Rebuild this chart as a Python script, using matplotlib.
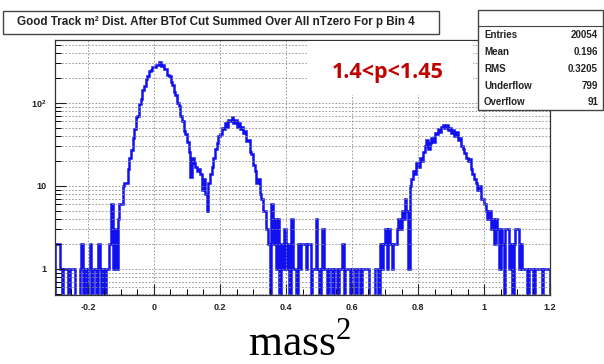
import numpy as np
import matplotlib
matplotlib.use("Agg")
import matplotlib.pyplot as plt
from matplotlib.patches import Rectangle
from matplotlib.lines import Line2D
from matplotlib.ticker import FixedLocator, MultipleLocator, LogLocator, NullFormatter, FuncFormatter

# histogram: 300 bins from -0.3 to 1.2 (bin width 0.005), counts
x_min, x_max, n_bins = -0.3, 1.2, 300
counts_m030 = [2, 2, 2, 1, 0, 1, 1, 1, 0, 1, 1, 1, 0, 0, 0, 1, 2, 0, 1, 0]
counts_m020 = [1, 2, 0, 1, 1, 0, 2, 1, 0, 1, 0, 1, 1, 2, 6, 1, 3, 1, 4, 6]
counts_m010 = [6, 10, 11, 11, 16, 22, 27, 38, 48, 68, 70, 98, 112, 145, 160, 196, 210, 245, 250, 270]
counts_p000 = [272, 290, 288, 310, 282, 286, 260, 255, 220, 210, 180, 165, 135, 125, 100, 92, 70, 60, 46, 42]
counts_p010 = [34, 26, 13, 22, 19, 17, 15, 16, 14, 9, 12, 8, 5, 11, 14, 17, 22, 28, 33, 40]
counts_p020 = [42, 50, 48, 57, 52, 63, 60, 68, 58, 62, 52, 57, 48, 52, 44, 46, 35, 36, 26, 24]
counts_p030 = [18, 15, 11, 12, 8, 7, 5, 5, 3, 2, 0, 6, 2, 4, 1, 4, 0, 2, 1, 3]
counts_p040 = [1, 2, 0, 4, 1, 1, 0, 2, 1, 2, 2, 2, 1, 2, 2, 0, 1, 1, 4, 1]
counts_p050 = [0, 1, 3, 1, 1, 0, 1, 1, 0, 1, 1, 0, 1, 1, 2, 0, 1, 1, 1, 0]
counts_p060 = [1, 1, 0, 1, 1, 0, 1, 1, 1, 1, 0, 0, 0, 0, 1, 1, 0, 2, 1, 2]
counts_p070 = [3, 1, 3, 2, 1, 2, 2, 3, 4, 3, 5, 4, 7, 5, 1, 10, 12, 15, 14, 19]
counts_p080 = [17, 22, 20, 26, 30, 36, 28, 33, 38, 34, 44, 42, 48, 45, 52, 55, 50, 54, 47, 50]
counts_p090 = [44, 47, 40, 45, 36, 38, 30, 28, 25, 22, 20, 21, 16, 14, 12, 11, 9, 10, 7, 7]
counts_p100 = [6, 5, 4, 5, 3, 4, 2, 4, 3, 1, 3, 2, 0, 3, 3, 1, 2, 0, 2, 3]
counts_p110 = [3, 1, 2, 1, 1, 1, 0, 1, 1, 1, 0, 1, 1, 1, 1, 0, 1, 1, 1, 1]

x_ticks = [-0.2, 0, 0.2, 0.4, 0.6, 0.8, 1.0, 1.2]
y_ticks = [1, 10, 100]
y_tick_labels = ["1", "10", "10$^{\\mathregular{2}}$"]

title = "Good Track m\u00b2 Dist. After BTof Cut Summed Over All nTzero For p Bin 4"
stat_names = ["Entries", "Mean", "RMS", "Underflow", "Overflow"]
stat_values = ["20054", "0.196", "0.3205", "799", "91"]
cut_label = "1.4<p<1.45"

counts = np.array(counts_m030 + counts_m020 + counts_m010 + counts_p000 + counts_p010
                  + counts_p020 + counts_p030 + counts_p040 + counts_p050 + counts_p060
                  + counts_p070 + counts_p080 + counts_p090 + counts_p100 + counts_p110, dtype=float)
edges = np.linspace(x_min, x_max, n_bins + 1)
draw_counts = np.where(counts > 0, counts, 1e-3)  # empty bins drop to the floor

plt.rcParams['mathtext.fontset'] = 'custom'
plt.rcParams['mathtext.rm'] = 'Liberation Serif'

W, H = 604, 364
fig = plt.figure(figsize=(W / 100, H / 100), dpi=100)
fig.patch.set_facecolor("white")


def fx(x):
    return x / W


def fy(y):
    return 1 - y / H


# plot frame in pixels: x 55..550, y 40..295
ax = fig.add_axes([fx(55), fy(295), (550 - 55) / W, (295 - 40) / H])
ax.stairs(draw_counts, edges, color="#1010f0", lw=1.8)
ax.set_yscale("log")
ax.set_xlim(x_min, x_max)
ax.set_ylim(0.486, 574)

ax.xaxis.set_major_locator(FixedLocator(x_ticks))
ax.xaxis.set_minor_locator(MultipleLocator(0.05))
ax.xaxis.set_major_formatter(FuncFormatter(lambda v, p: "%g" % round(v, 2)))
ax.yaxis.set_major_locator(FixedLocator(y_ticks))
ax.yaxis.set_minor_locator(LogLocator(base=10, subs=np.arange(2, 10)))
ax.set_yticklabels(y_tick_labels)
ax.yaxis.set_minor_formatter(NullFormatter())

ax.tick_params(which="major", direction="in", length=8, width=0.8, labelsize=6.5,
               colors="#222222", pad=6)
ax.tick_params(which="minor", direction="in", length=4, width=0.7)
for lab in ax.get_xticklabels() + ax.get_yticklabels():
    lab.set_fontweight("bold")
    lab.set_family("Liberation Sans")

ax.grid(True, which="major", axis="both", ls=(0, (2, 2)), color="#8c8c8c", lw=0.6)
ax.grid(True, which="minor", axis="y", ls=(0, (2, 2)), color="#8c8c8c", lw=0.6)
for s in ax.spines.values():
    s.set_color("#333333")
    s.set_linewidth(0.9)

# white patch behind the momentum label
fig.add_artist(Rectangle((fx(307), fy(95)), (473 - 307) / W, (95 - 41) / H,
                         transform=fig.transFigure, facecolor="white", edgecolor="none", zorder=5))
fig.text(fx(388), fy(78), cut_label, color="#c00000", fontsize=15.5, fontweight="bold",
         family="Open Sans", ha="center", va="baseline", zorder=6)

# title box
fig.add_artist(Rectangle((fx(3), fy(34)), (439 - 3) / W, (34 - 11) / H,
                         transform=fig.transFigure, facecolor="white", edgecolor="#444444",
                         lw=1.0, zorder=5))
fig.text(fx(216), fy(22.5), title, fontsize=8.4, fontweight="bold", family="Liberation Sans",
         ha="center", va="center", color="#222222", zorder=6)

# stats box
fig.add_artist(Rectangle((fx(478), fy(110)), (603 - 478) / W, (110 - 10) / H,
                         transform=fig.transFigure, facecolor="white", edgecolor="#444444",
                         lw=1.0, zorder=5))
fig.add_artist(Line2D([fx(478), fx(603)], [fy(26), fy(26)], transform=fig.transFigure,
                      color="#444444", lw=0.8, zorder=6))
row_y = [35, 52, 69, 86, 102]
for name, val, yy in zip(stat_names, stat_values, row_y):
    fig.text(fx(484), fy(yy), name, fontsize=7, fontweight="bold", family="Liberation Sans",
             ha="left", va="center", color="#222222", zorder=6)
    fig.text(fx(598), fy(yy), val, fontsize=7, fontweight="bold", family="Liberation Sans",
             ha="right", va="center", color="#222222", zorder=6)

# axis title
fig.text(fx(300), fy(356), r"$\mathrm{mass}^{2}$", fontsize=31.5, ha="center", va="baseline")

fig.savefig("out.png", dpi=100, facecolor="white")
